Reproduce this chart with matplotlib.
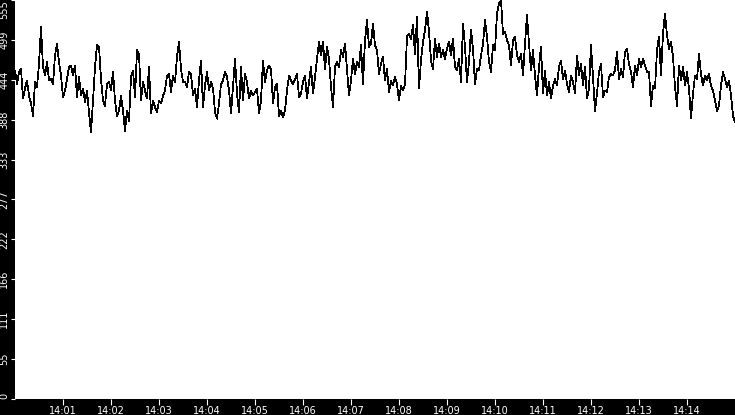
import numpy as np
import pandas as pd
import matplotlib
matplotlib.use("Agg")
import matplotlib.pyplot as plt
import matplotlib.dates as mdates

# readings, one every 2.5 s from 14:00:00 to 14:15:00
vals_a = [457, 438, 455, 459, 418, 432, 443, 422, 411, 394, 441, 434, 466, 518, 462, 450, 469, 443, 445, 438,
          478, 494, 469, 450, 420, 429, 445, 462, 464, 450, 464, 420, 448, 422, 432, 413, 429, 399, 371, 415,
          462, 492, 490, 445, 415, 408, 438, 441, 429, 455, 415, 394, 401, 422, 401, 373, 401, 387, 448, 457]
vals_b = [420, 485, 480, 415, 441, 429, 418, 462, 397, 415, 406, 399, 415, 411, 422, 429, 450, 452, 427, 450,
          441, 476, 497, 459, 441, 441, 434, 455, 452, 422, 432, 406, 443, 471, 406, 436, 455, 429, 441, 432,
          399, 390, 411, 438, 443, 455, 448, 429, 397, 434, 473, 425, 399, 462, 415, 452, 441, 418, 429, 422]
vals_c = [427, 432, 397, 415, 471, 441, 457, 464, 459, 411, 434, 438, 394, 401, 392, 401, 429, 450, 443, 438,
          445, 452, 420, 425, 441, 450, 418, 441, 462, 425, 448, 473, 497, 478, 497, 459, 490, 473, 434, 406,
          462, 469, 462, 485, 476, 494, 457, 422, 443, 473, 452, 469, 462, 492, 438, 499, 527, 490, 494, 522]
vals_d = [492, 485, 452, 466, 476, 443, 459, 427, 443, 436, 448, 438, 415, 436, 429, 438, 504, 508, 501, 520,
          480, 532, 432, 471, 497, 513, 539, 511, 471, 459, 501, 476, 494, 476, 485, 473, 487, 497, 478, 501,
          462, 457, 473, 441, 522, 490, 441, 469, 513, 487, 438, 459, 457, 478, 494, 527, 504, 469, 455, 492]
vals_e = [485, 536, 550, 555, 508, 511, 499, 492, 464, 499, 504, 478, 469, 480, 450, 494, 534, 494, 457, 485,
          450, 422, 462, 490, 425, 457, 422, 441, 418, 436, 445, 436, 462, 471, 445, 457, 438, 427, 450, 441,
          425, 478, 450, 466, 436, 462, 418, 432, 492, 448, 401, 425, 455, 466, 420, 429, 427, 448, 452, 450]
vals_f = [457, 483, 445, 459, 448, 483, 487, 466, 455, 434, 464, 450, 473, 462, 473, 464, 455, 455, 408, 436,
          432, 485, 504, 450, 508, 536, 506, 487, 497, 476, 434, 408, 464, 443, 462, 436, 455, 432, 390, 425,
          450, 445, 480, 452, 436, 450, 443, 452, 436, 429, 415, 401, 408, 436, 455, 445, 434, 443, 422, 394,
          385]
values = vals_a + vals_b + vals_c + vals_d + vals_e + vals_f
times = pd.date_range("2024-01-01 14:00:00", periods=len(values), freq="2500ms")
x_ticks = pd.date_range("2024-01-01 14:01:00", "2024-01-01 14:14:00", freq="1min")

y_max = 555
y_ticks = np.linspace(0, y_max, 11)
y_labels = ["0", "55", "111", "166", "222", "277", "333", "388", "444", "499", "555"]

fig = plt.figure(figsize=(7.35, 4.15), dpi=100, facecolor="black")
ax = fig.add_axes([15 / 735, 16 / 415, 720 / 735, 399 / 415])
ax.set_facecolor("white")

ax.plot(times, values, color="black", lw=0.55, antialiased=False)

ax.set_xlim(times[0], times[-1])
ax.set_ylim(0, y_max)
ax.set_xticks(x_ticks)
ax.xaxis.set_major_formatter(mdates.DateFormatter("%H:%M"))
ax.set_yticks(y_ticks)
ax.set_yticklabels(y_labels, rotation=90, va="center")

for s in ax.spines.values():
    s.set_visible(False)
ax.tick_params(axis="x", colors="white", labelsize=7, length=4, width=0.8, pad=1)
ax.tick_params(axis="y", colors="white", labelsize=7, length=3, width=0.8, pad=1)

ylabs = ax.get_yticklabels()
ylabs[0].set_va("bottom")
ylabs[-1].set_va("top")

fig.savefig("out.png", dpi=100, facecolor="black")
